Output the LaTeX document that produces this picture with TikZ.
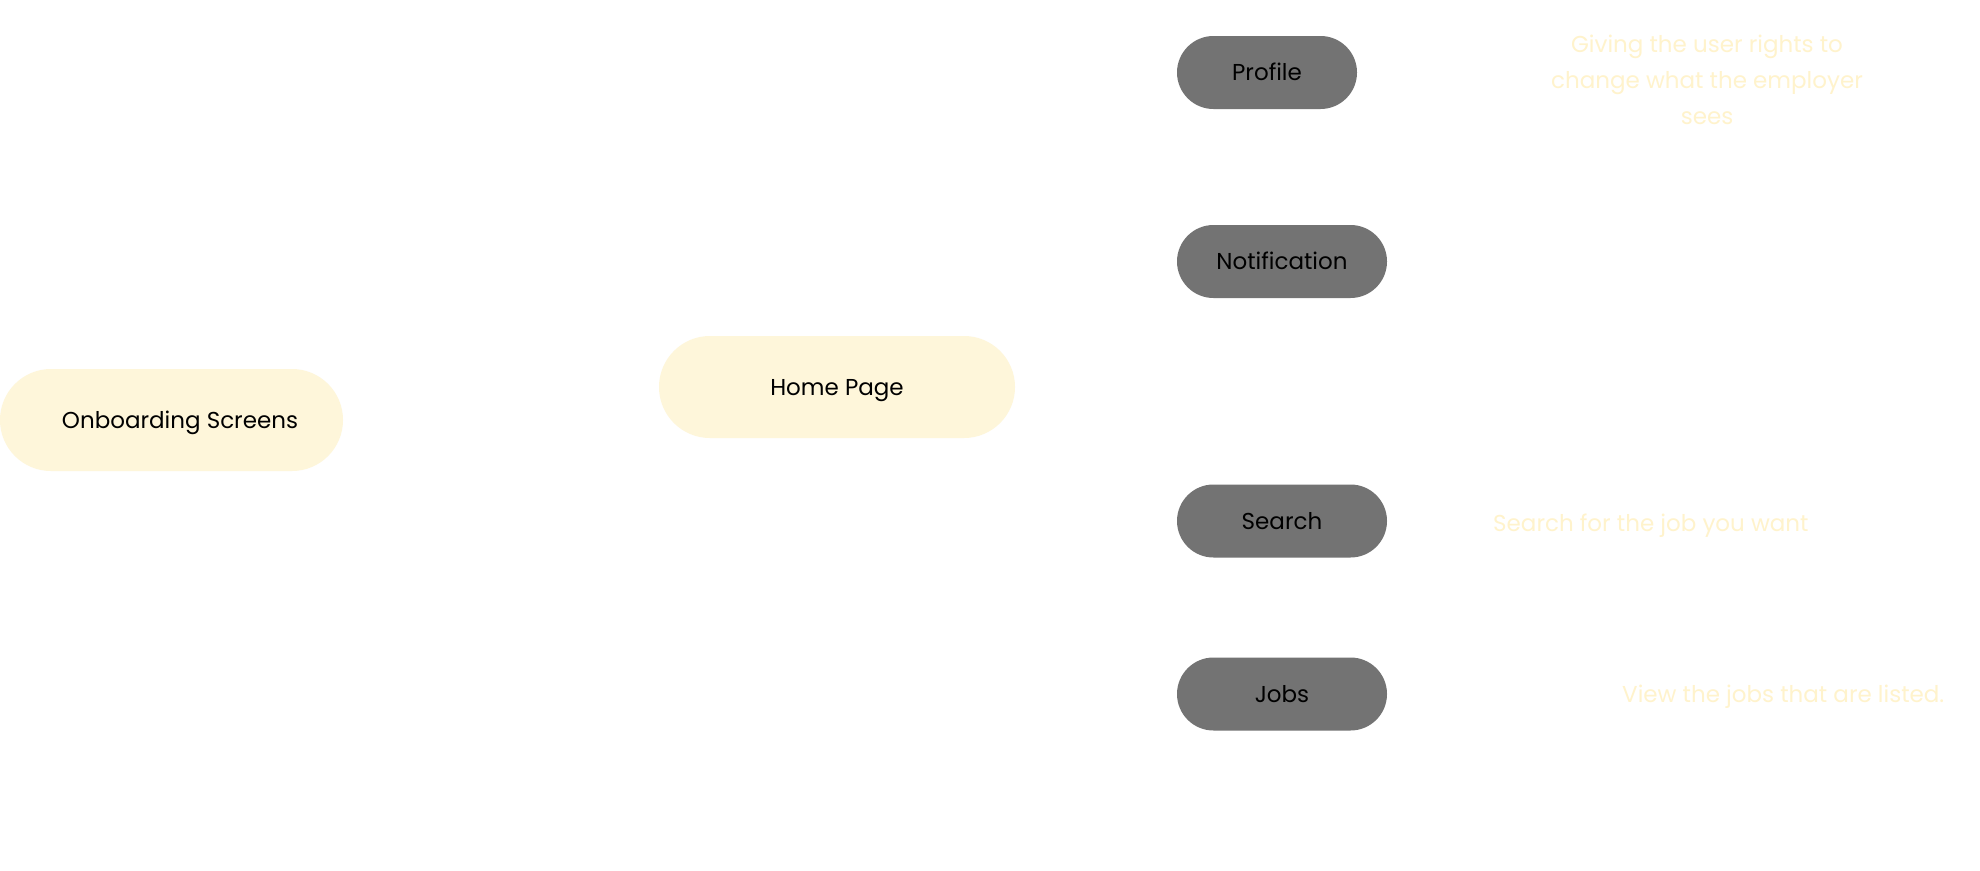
\documentclass[tikz,border=0pt]{standalone}
\usepackage{fontspec}
\setmainfont{Poppins}
\definecolor{cream}{HTML}{FEF6DA}
\definecolor{pillgray}{HTML}{737373}
\definecolor{paletext}{HTML}{FFF3CC}
\begin{document}
\begin{tikzpicture}[x=1pt,y=-1pt,
  bigpill/.style={rectangle, fill=cream, rounded corners=51pt, minimum height=102pt, inner sep=0pt},
  smallpill/.style={rectangle, fill=pillgray, rounded corners=36.5pt, minimum height=73pt, inner sep=0pt},
  lbl/.style={font=\fontsize{23}{28}\selectfont, text=black, text height=16pt, text depth=0pt, inner sep=0pt},
  note/.style={font=\fontsize{23}{36}\selectfont, text=paletext, inner sep=0pt}]
\useasboundingbox (0,0) rectangle (1980,870);
\fill[white] (0,0) rectangle (1980,870);

\node[bigpill, minimum width=343pt] (onb) at (171.5,420) {};
\node[lbl] (onbt) at (180,420) {Onboarding Screens};

\node[bigpill, minimum width=356pt, lbl] (home) at (837,387) {Home Page};

\node[smallpill, minimum width=180pt, lbl] (profile) at (1267,72.5) {Profile};
\node[smallpill, minimum width=210pt, lbl] (notif) at (1282,261.5) {Notification};
\node[smallpill, minimum width=210pt, lbl] (search) at (1282,521) {Search};
\node[smallpill, minimum width=210pt, lbl] (jobs) at (1282,694) {Jobs};

\node[note, align=center, anchor=base] (profnote) at (1707,124) {Giving the user rights to\\change what the employer\\sees};
\node[note, anchor=base west] (searchnote) at (1493,531) {Search for the job you want};
\node[note, anchor=base west] (jobsnote) at (1622,702) {View the jobs that are listed.};
\end{tikzpicture}
\end{document}
